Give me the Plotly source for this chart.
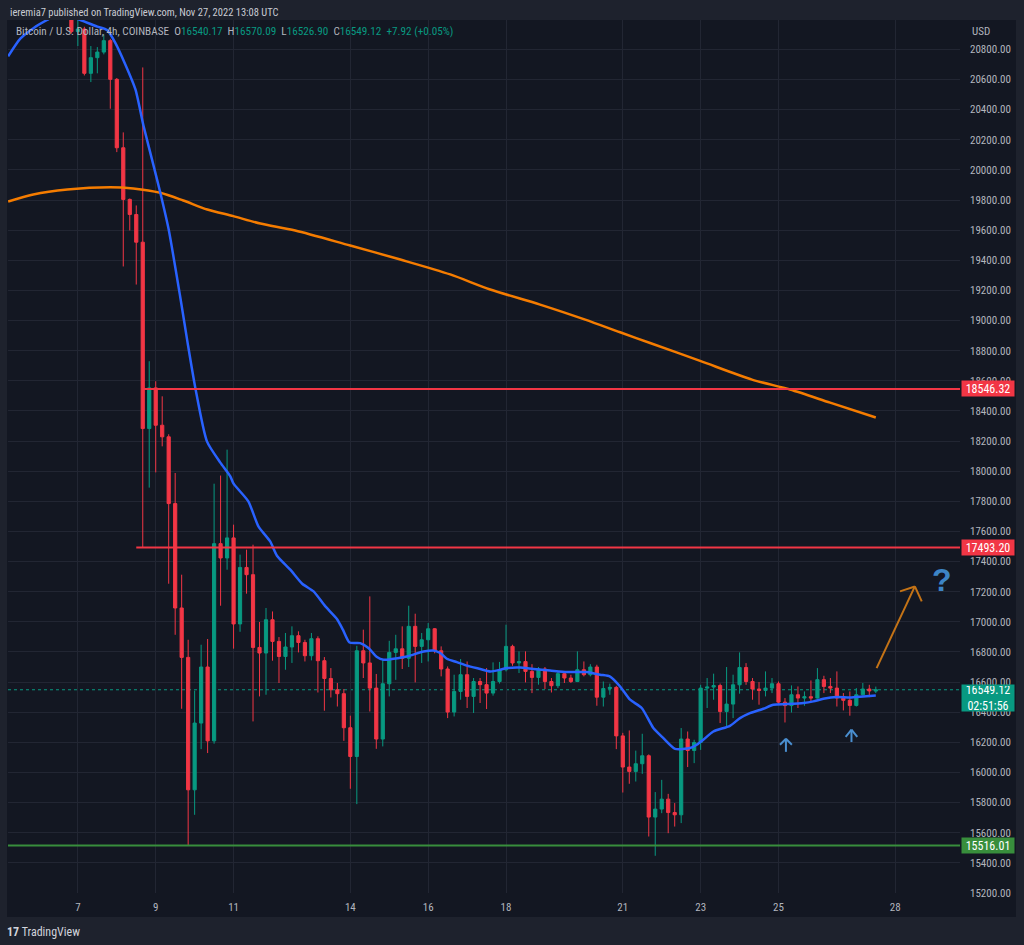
import pandas as pd
import plotly.graph_objects as go

# ---------------- data ----------------
candle_start = "2022-11-06 20:00"   # first candle, 4h bars
opens = [21080, 20918, 20935, 20641, 20745, 20782, 20858, 20601, 20147, 19804, 19704, 19520, 18283, 18553, 18305, 18228,
         17785, 17092, 16764, 15885, 16328, 16700, 16210, 17519, 17424, 17557, 16986, 17361, 17313, 16830, 16793, 17014,
         16870, 16770, 16833, 16908, 16863, 16775, 16888, 16742, 16624, 16549, 16523, 16297, 16106, 16808, 16727, 16560,
         16222, 16589, 16797, 16821, 16758, 16970, 16837, 16881, 16954, 16808, 16687, 16401, 16538, 16649, 16505, 16604,
         16583, 16527, 16604, 16682, 16837, 16727, 16736, 16671, 16631, 16687, 16604, 16576, 16656, 16627, 16604, 16682,
         16649, 16700, 16500, 16557, 16565, 16243, 16036, 16007, 16058, 16111, 15704, 15757, 15823, 15734, 15719, 16222,
         16146, 16199, 16560, 16567, 16577, 16405, 16454, 16582, 16697, 16604, 16554, 16545, 16560, 16589, 16467, 16444,
         16516, 16494, 16503, 16494, 16616, 16571, 16560, 16494, 16479, 16445, 16516, 16554, 16540.17]
highs = [21180, 21100, 20950, 20822, 20815, 20900, 20870, 20610, 20249, 19810, 19764, 20680, 18730, 18597, 18497, 18245,
         17988, 17313, 16881, 16543, 16848, 16886, 17917, 17971, 18143, 17645, 17446, 17479, 17512, 16999, 17092, 17069,
         16899, 16926, 16970, 16937, 16881, 16926, 16904, 16766, 16693, 16594, 16554, 16377, 16841, 16948, 17169, 16654,
         16748, 16874, 16914, 16970, 17107, 17054, 16926, 16992, 16959, 16837, 16704, 16649, 16753, 16737, 16627, 16627,
         16693, 16731, 16734, 16981, 16848, 16804, 16804, 16719, 16700, 16700, 16627, 16671, 16671, 16649, 16804, 16737,
         16719, 16715, 16604, 16590, 16575, 16263, 16279, 16145, 16257, 16120, 15870, 15951, 15858, 15797, 16295, 16272,
         16217, 16582, 16627, 16656, 16590, 16700, 16649, 16797, 16726, 16627, 16600, 16671, 16627, 16604, 16494, 16578,
         16571, 16538, 16611, 16693, 16642, 16627, 16671, 16527, 16538, 16560, 16594, 16582, 16570.09]
lows = [20905, 20822, 20627, 20583, 20641, 20767, 20406, 20118, 19359, 19598, 19239, 17492, 17891, 17992, 18165, 17253,
        16914, 16423, 15516.01, 15719, 16155, 16129, 16191, 17107, 17346, 16822, 16934, 17187, 16339, 16505, 16516, 16742,
        16594, 16682, 16727, 16797, 16737, 16744, 16531, 16410, 16498, 16438, 16210, 15892, 15790, 16627, 16405, 16157,
        16173, 16505, 16615, 16687, 16700, 16598, 16727, 16737, 16791, 16638, 16361, 16372, 16483, 16428, 16395, 16461,
        16421, 16510, 16590, 16671, 16708, 16660, 16598, 16527, 16583, 16554, 16531, 16560, 16594, 16594, 16600, 16638,
        16638, 16443, 16438, 16516, 16155, 15867, 15925, 15940, 15991, 15575, 15447, 15730, 15597, 15641, 15664, 16036,
        16062, 16150, 16428, 16483, 16328, 16306, 16361, 16523, 16582, 16483, 16450, 16505, 16527, 16454, 16332, 16398,
        16428, 16443, 16467, 16490, 16527, 16527, 16438, 16412, 16377, 16438, 16510, 16500, 16526.90]
closes = [20918, 20935, 20641, 20745, 20782, 20858, 20601, 20147, 19804, 19704, 19520, 18283, 18553, 18305, 18228, 17785,
          17092, 16764, 15885, 16328, 16700, 16210, 17519, 17424, 17557, 16986, 17361, 17313, 16830, 16793, 17014, 16870,
          16770, 16833, 16908, 16863, 16775, 16888, 16742, 16624, 16549, 16523, 16297, 16106, 16808, 16727, 16560, 16222,
          16589, 16797, 16821, 16758, 16970, 16837, 16881, 16954, 16808, 16687, 16401, 16538, 16649, 16505, 16604, 16583,
          16527, 16604, 16682, 16837, 16727, 16736, 16671, 16631, 16687, 16604, 16576, 16656, 16627, 16604, 16682, 16649,
          16700, 16500, 16557, 16565, 16243, 16036, 16007, 16058, 16111, 15704, 15757, 15823, 15734, 15719, 16222, 16146,
          16199, 16560, 16567, 16577, 16405, 16454, 16582, 16697, 16604, 16554, 16545, 16560, 16589, 16467, 16444, 16516,
          16494, 16503, 16494, 16616, 16571, 16560, 16494, 16479, 16445, 16516, 16554, 16541.20, 16549.12]

ma_fast_t = ["2022-11-05 05:00", "2022-11-05 12:30", "2022-11-05 21:00", "2022-11-06 05:00", "2022-11-06 13:00",
             "2022-11-07 01:30", "2022-11-07 12:00", "2022-11-07 18:00", "2022-11-07 23:00", "2022-11-08 05:15",
             "2022-11-08 11:30", "2022-11-08 16:30", "2022-11-08 22:45", "2022-11-09 02:50", "2022-11-09 08:00",
             "2022-11-09 15:10", "2022-11-09 19:40", "2022-11-10 00:25", "2022-11-10 07:35", "2022-11-10 15:50",
             "2022-11-10 22:00", "2022-11-11 00:00", "2022-11-11 09:05", "2022-11-11 15:25", "2022-11-11 22:35",
             "2022-11-12 02:45", "2022-11-12 11:00", "2022-11-12 18:20", "2022-11-13 01:20", "2022-11-13 08:30",
             "2022-11-13 15:45", "2022-11-13 19:25", "2022-11-13 23:30", "2022-11-14 06:05", "2022-11-14 11:10",
             "2022-11-14 16:25", "2022-11-14 20:30", "2022-11-15 02:40", "2022-11-15 10:55", "2022-11-15 21:10",
             "2022-11-16 03:15", "2022-11-16 07:25", "2022-11-16 11:30", "2022-11-16 17:40", "2022-11-16 23:50",
             "2022-11-17 08:05", "2022-11-17 14:15", "2022-11-17 20:25", "2022-11-18 00:30", "2022-11-18 08:40",
             "2022-11-18 16:55", "2022-11-19 03:10", "2022-11-19 13:30", "2022-11-20 01:50", "2022-11-20 10:00",
             "2022-11-20 16:10", "2022-11-20 22:20", "2022-11-21 04:30", "2022-11-21 11:40", "2022-11-21 18:50",
             "2022-11-22 01:00", "2022-11-22 08:15", "2022-11-22 17:30", "2022-11-22 21:35", "2022-11-23 01:40",
             "2022-11-23 07:50", "2022-11-23 18:05", "2022-11-24 00:15", "2022-11-24 06:25", "2022-11-24 14:40",
             "2022-11-24 20:50", "2022-11-25 05:05", "2022-11-25 15:20", "2022-11-25 21:30", "2022-11-26 03:40",
             "2022-11-26 11:55", "2022-11-26 20:05", "2022-11-27 04:20", "2022-11-27 12:00"]
ma_fast_v = [20754, 20871, 20944, 20995, 21039, 20995, 20951, 20928, 20845, 20700,
             20534, 20291, 20025, 19848, 19604, 19153, 18852, 18553, 18198, 18057,
             17966, 17917, 17800, 17632, 17534, 17439, 17346, 17253, 17202, 17104,
             17019, 16948, 16863, 16859, 16826, 16766, 16748, 16755, 16770, 16803,
             16810, 16793, 16755, 16733, 16709, 16687, 16671, 16682, 16693, 16697,
             16687, 16677, 16667, 16667, 16649, 16637, 16571, 16483, 16428, 16295,
             16228, 16157, 16162, 16184, 16217, 16272, 16310, 16361, 16394, 16423,
             16450, 16454, 16461, 16472, 16489, 16501, 16498, 16505, 16511]

ma_slow_t = ["2022-11-05 05:00", "2022-11-05 20:30", "2022-11-06 17:30", "2022-11-07 20:00", "2022-11-08 10:10",
             "2022-11-09 02:50", "2022-11-09 17:00", "2022-11-10 07:50", "2022-11-10 23:50", "2022-11-11 16:30",
             "2022-11-12 14:00", "2022-11-13 23:55", "2022-11-15 06:50", "2022-11-16 13:35", "2022-11-17 14:15",
             "2022-11-18 21:00", "2022-11-20 00:50", "2022-11-20 22:20", "2022-11-21 16:50", "2022-11-22 23:40",
             "2022-11-24 07:40", "2022-11-25 07:05", "2022-11-26 07:50", "2022-11-27 12:00"]
ma_slow_v = [19790, 19837, 19870, 19885, 19877, 19848, 19797, 19737, 19693, 19644,
             19598, 19498, 19405, 19306, 19206, 19106, 19006, 18922, 18851, 18732,
             18608, 18542, 18455, 18356]

levels = [18546.32, 17493.20, 15516.01]
level_starts = ["2022-11-08 16:00", "2022-11-08 12:00", "2022-11-05 04:55"]
level_colors = ["#f23645", "#f23645", "#388e3c"]
last_price = 16549.12
countdown = "02:51:56"

day_ticks = ["2022-11-07", "2022-11-09", "2022-11-11", "2022-11-14", "2022-11-16",
             "2022-11-18", "2022-11-21", "2022-11-23", "2022-11-25", "2022-11-28"]
day_labels = ["7", "9", "11", "14", "16", "18", "21", "23", "25", "28"]
price_ticks = list(range(15200, 20801, 200))

x_range = ["2022-11-05 04:55", "2022-11-29 15:55"]
y_range = [15200, 20995]

# ---------------- figure ----------------
FONT = "Liberation Sans Narrow, Arial Narrow, Roboto Condensed, Liberation Sans, sans-serif"
PANEL = "#131722"
OUTER = "#1e222d"
GRID = "#222633"
TXT = "#b2b5be"
UP = "#089981"
DN = "#f23645"

times = pd.date_range(candle_start, periods=len(opens), freq="4h")

fig = go.Figure()
fig.add_trace(go.Scatter(x=ma_slow_t, y=ma_slow_v, mode="lines",
                         line=dict(color="#f57c00", width=2.5, shape="spline", smoothing=0.8), hoverinfo="skip"))
fig.add_trace(go.Candlestick(x=times, open=opens, high=highs, low=lows, close=closes,
                             increasing=dict(line=dict(color=UP, width=1), fillcolor=UP),
                             decreasing=dict(line=dict(color=DN, width=1), fillcolor=DN),
                             whiskerwidth=0))
fig.add_trace(go.Scatter(x=ma_fast_t, y=ma_fast_v, mode="lines",
                         line=dict(color="#2962ff", width=2.5, shape="spline", smoothing=0.6), hoverinfo="skip"))

shapes = []
# panel background
shapes.append(dict(type="rect", xref="paper", yref="paper", x0=-1/952, x1=1008/952, y0=-24/873, y1=1.0,
                   fillcolor=PANEL, line=dict(width=0), layer="below"))
# horizontal levels
for lv, st, col in zip(levels, level_starts, level_colors):
    shapes.append(dict(type="line", xref="x", yref="y", x0=st, x1=x_range[1], y0=lv, y1=lv,
                       line=dict(color=col, width=2), layer="above"))
# last price dotted line
shapes.append(dict(type="line", xref="x", yref="y", x0=x_range[0], x1=x_range[1], y0=last_price, y1=last_price,
                   line=dict(color=UP, width=1, dash="dot"), layer="below"))

# orange arrow drawing
arrow_col = "#c47316"
arrow_pts = [("2022-11-27 12:30", 16693), ("2022-11-28 12:05", 17235)]
arrow_wings = [("2022-11-28 02:55", 17202), ("2022-11-28 16:20", 17136)]
shapes.append(dict(type="line", x0=arrow_pts[0][0], y0=arrow_pts[0][1], x1=arrow_pts[1][0], y1=arrow_pts[1][1],
                   line=dict(color=arrow_col, width=2)))
for wx, wy in arrow_wings:
    shapes.append(dict(type="line", x0=arrow_pts[1][0], y0=arrow_pts[1][1], x1=wx, y1=wy,
                       line=dict(color=arrow_col, width=2)))

# small blue up arrows
blue_col = "#4a8fd0"
up_arrows = [
    dict(tip=("2022-11-25 04:35", 16224), left=("2022-11-25 00:55", 16184), right=("2022-11-25 08:15", 16184), base=16137),
    dict(tip=("2022-11-26 21:00", 16284), left=("2022-11-26 17:25", 16237), right=("2022-11-27 00:35", 16237), base=16202),
]
for a in up_arrows:
    tx, ty = a["tip"]
    shapes.append(dict(type="line", x0=tx, y0=ty, x1=tx, y1=a["base"], line=dict(color=blue_col, width=2)))
    for wx, wy in (a["left"], a["right"]):
        shapes.append(dict(type="line", x0=tx, y0=ty, x1=wx, y1=wy, line=dict(color=blue_col, width=2)))

annotations = []
# header
annotations.append(dict(xref="paper", yref="paper", x=0, y=881/873, xanchor="left", yanchor="middle",
                        text="ieremia7 published on TradingView.com, Nov 27, 2022 13:08 UTC", showarrow=False,
                        font=dict(family=FONT, size=10.5, color="#c9ccd4")))
legend_txt = ("Bitcoin / U.S. Dollar, 4h, COINBASE&nbsp;&nbsp;O<span style='color:#089981'>16540.17</span>"
              "&nbsp;&nbsp;H<span style='color:#089981'>16570.09</span>"
              "&nbsp;&nbsp;L<span style='color:#089981'>16526.90</span>"
              "&nbsp;&nbsp;C<span style='color:#089981'>16549.12</span>"
              "&nbsp;&nbsp;<span style='color:#089981'>+7.92 (+0.05%)</span>")
annotations.append(dict(xref="paper", yref="paper", x=6/952, y=861/873, xanchor="left", yanchor="middle",
                        text=legend_txt, showarrow=False, font=dict(family=FONT, size=11.2, color=TXT)))
annotations.append(dict(xref="paper", yref="paper", x=962/952, y=861/873, xanchor="left", yanchor="middle",
                        text="USD", showarrow=False, font=dict(family=FONT, size=11, color=TXT)))
# price boxes
for lv, col in zip(levels, ["#f23645", "#f23645", "#388e3c"]):
    annotations.append(dict(xref="paper", yref="y", x=953/952, y=lv, xanchor="left", yanchor="middle",
                            text=f"{lv:.2f}", showarrow=False, bgcolor=col, width=50, height=13, borderpad=1,
                            font=dict(family=FONT, size=12, color="#ffffff")))
annotations.append(dict(xref="paper", yref="y", x=953/952, y=last_price, xanchor="left", yanchor="top", yshift=6,
                        text=f"{last_price:.2f}<br>{countdown}", showarrow=False, bgcolor=UP, width=50, height=24,
                        borderpad=1, font=dict(family=FONT, size=12, color="#ffffff")))
# question mark
annotations.append(dict(xref="x", yref="y", x="2022-11-29 04:35", y=17280, text="<b>?</b>", showarrow=False,
                        font=dict(family="Liberation Sans, Arial, sans-serif", size=32, color="#3d85c6")))
# TradingView footer
annotations.append(dict(xref="paper", yref="paper", x=-3/952, y=-39/873, xanchor="left", yanchor="middle",
                        text="<b>17</b> TradingView", showarrow=False,
                        font=dict(family=FONT, size=12, color="#d1d4dc")))

fig.update_layout(
    width=1024, height=945,
    margin=dict(l=8, r=64, t=20, b=52),
    paper_bgcolor=OUTER, plot_bgcolor=PANEL,
    showlegend=False,
    shapes=shapes, annotations=annotations,
    xaxis=dict(type="date", range=x_range, rangeslider=dict(visible=False),
               tickvals=day_ticks, ticktext=day_labels, showgrid=True, gridcolor=GRID, gridwidth=1,
               zeroline=False, showline=False, ticks="", ticklabelstandoff=6,
               tickfont=dict(family=FONT, size=11, color=TXT)),
    yaxis=dict(side="right", range=y_range, tickvals=price_ticks, tickformat=".2f",
               showgrid=True, gridcolor=GRID, gridwidth=1, zeroline=False, showline=False,
               ticks="", ticklabelstandoff=9, tickfont=dict(family=FONT, size=11, color=TXT)),
)

fig.write_html("out.html")
